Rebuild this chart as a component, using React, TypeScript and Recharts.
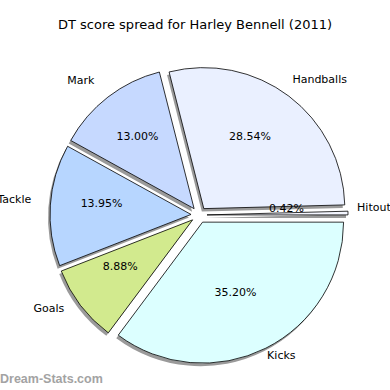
import { PieChart, Pie, Cell } from "recharts";

const names = ["Hitout", "Handballs", "Mark", "Tackle", "Goals", "Kicks"];
const values = [0.42, 28.54, 13.0, 13.95, 8.88, 35.2];
const colors = ["#f4f6ff", "#eaf0ff", "#c6d9ff", "#b7d6ff", "#d2ea8e", "#dcffff"];

const data = names.map((name, i) => ({ name, value: values[i] }));

const CX = 194;
const CY = 210;
const R = 141;
const EXPLODE = 8;
const SHADOW = { x: -2, y: 3 };
const FONT = "'DejaVu Sans', sans-serif";

const total = values.reduce((a, b) => a + b, 0);
const midAngles = values.map((v, i) => {
  const before = values.slice(0, i).reduce((a, b) => a + b, 0);
  return ((before + v / 2) / total) * 360;
});
const RAD = Math.PI / 180;

function centerFor(i: number) {
  const a = midAngles[i] * RAD;
  return { x: CX + EXPLODE * Math.cos(a), y: CY - EXPLODE * Math.sin(a) };
}

export default function App() {
  return (
    <div style={{ position: "absolute", left: 0, top: 0, width: 390, height: 390, background: "#fff" }}>
      <div
        style={{
          position: "absolute",
          top: 16,
          left: 0,
          width: 390,
          textAlign: "center",
          fontFamily: FONT,
          fontSize: 13,
          lineHeight: "18px",
          color: "#000",
        }}
      >
        DT score spread for Harley Bennell (2011)
      </div>
      <PieChart width={390} height={390} style={{ position: "absolute", left: 0, top: 0 }}>
        {names.map((_, i) => {
          const c = centerFor(i);
          return (
            <Pie
              key={"shadow-" + i}
              data={data}
              dataKey="value"
              cx={c.x + SHADOW.x}
              cy={c.y + SHADOW.y}
              outerRadius={R}
              innerRadius={0}
              startAngle={0}
              endAngle={360}
              stroke="none"
              isAnimationActive={false}
              labelLine={false}
            >
              {data.map((d, j) => (
                <Cell key={d.name} fill={j === i ? "#9a9a9a" : "none"} />
              ))}
            </Pie>
          );
        })}
        {names.map((_, i) => {
          const c = centerFor(i);
          return (
            <Pie
              key={"slice-" + i}
              data={data}
              dataKey="value"
              cx={c.x}
              cy={c.y}
              outerRadius={R}
              innerRadius={0}
              startAngle={0}
              endAngle={360}
              isAnimationActive={false}
              labelLine={false}
              label={(p: any) => {
                if (p.index !== i) return <g />;
                const a = p.midAngle * RAD;
                const cos = Math.cos(a);
                const sin = Math.sin(a);
                const lx = c.x + R * 1.1 * cos;
                const ly = c.y - R * 1.1 * sin;
                const px = c.x + R * 0.6 * cos;
                const py = c.y - R * 0.6 * sin;
                return (
                  <g>
                    <text
                      x={lx}
                      y={ly}
                      textAnchor={cos >= 0 ? "start" : "end"}
                      dominantBaseline="central"
                      fontFamily={FONT}
                      fontSize={11}
                      fill="#000"
                    >
                      {p.name}
                    </text>
                    <text
                      x={px}
                      y={py}
                      textAnchor="middle"
                      dominantBaseline="central"
                      fontFamily={FONT}
                      fontSize={11}
                      fill="#000"
                    >
                      {values[i].toFixed(2) + "%"}
                    </text>
                  </g>
                );
              }}
            >
              {data.map((d, j) => (
                <Cell
                  key={d.name}
                  fill={j === i ? colors[j] : "none"}
                  stroke={j === i ? "#000" : "none"}
                  strokeWidth={0.8}
                />
              ))}
            </Pie>
          );
        })}
      </PieChart>
      <div
        style={{
          position: "absolute",
          left: 0,
          top: 371,
          fontFamily: "'Liberation Sans', Arial, sans-serif",
          fontWeight: "bold",
          fontSize: 12.5,
          lineHeight: "16px",
          color: "#a3a3a3",
        }}
      >
        Dream-Stats.com
      </div>
    </div>
  );
}
